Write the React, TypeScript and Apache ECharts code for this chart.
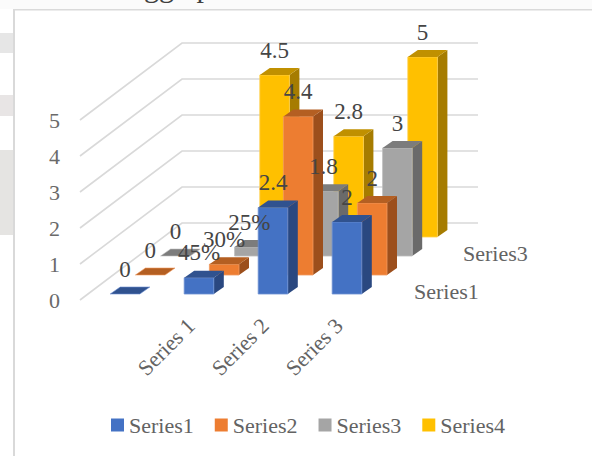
import React, { useEffect, useRef } from "react";
import * as echarts from "echarts";

const categories = ["", "Series 1", "Series 2", "Series 3"];
const seriesNames = ["Series1", "Series2", "Series3", "Series4"];
const series1Values = [0, 0.45, 2.4, 2];
const series2Values = [0, 0.3, 4.4, 2];
const series3Values = [0, 0.25, 1.8, 3];
const series4Values = [null, 4.5, 2.8, 5];
const series1Labels = ["0", "45%", "2.4", "2"];
const series2Labels = ["0", "30%", "4.4", "2"];
const series3Labels = ["0", "25%", "1.8", "3"];
const series4Labels = ["", "4.5", "2.8", "5"];
const yTicks = [0, 1, 2, 3, 4, 5];
const depthLabels = ["Series1", "Series3"];

const FONT = '"Liberation Serif", serif';
const FRONT = ["#4472C4", "#ED7D31", "#A5A5A5", "#FFC000"];
const TOP = ["#30528F", "#B45F22", "#7C7C7C", "#C09000"];
const SIDE = ["#2A4880", "#9C4F1C", "#6A6A6A", "#A67C00"];
const EDGE = ["#6C8FD2", "#F19A5F", "#BDBDBD", "#FFD04D"];

const barSeries = (row: number, values: (number | null)[], labels: string[]) => ({
  type: "custom",
  name: seriesNames[row],
  coordinateSystem: "cartesian2d",
  z: 3,
  itemStyle: { color: FRONT[row] },
  data: values.map((v, i) => [i, v]).filter((d) => d[1] !== null),
  renderItem: (_p: any, api: any) => {
    const cat = api.value(0);
    const v = api.value(1);
    const band = api.size([1, 0])[0];
    const base = api.coord([cat, 0]);
    const top = api.coord([cat, v]);
    const w = band * 0.4;
    const ox = 8 + 25.2 * row;
    const oy = -6 - 19 * row;
    const x0 = base[0] - w / 2 + ox;
    const x1 = x0 + w;
    const yb = base[1] + oy;
    const yt = top[1] + oy;
    const dx = 10;
    const dy = -7;
    const z2 = 10 - row;
    const children: any[] = [];
    if (v > 0) {
      children.push({
        type: "polygon",
        z2,
        shape: { points: [[x1, yb], [x1 + dx, yb + dy], [x1 + dx, yt + dy], [x1, yt]] },
        style: { fill: SIDE[row] },
      });
      children.push({
        type: "rect",
        z2,
        shape: { x: x0, y: yt, width: w, height: yb - yt },
        style: { fill: FRONT[row], stroke: EDGE[row], lineWidth: 0.8 },
      });
    }
    children.push({
      type: "polygon",
      z2,
      shape: { points: [[x0, yt], [x1, yt], [x1 + dx, yt + dy], [x0 + dx, yt + dy]] },
      style: { fill: TOP[row], stroke: v > 0 ? undefined : EDGE[row], lineWidth: v > 0 ? 0 : 0.6 },
    });
    children.push({
      type: "text",
      z2: 50,
      x: (x0 + x1 + dx) / 2 - 5,
      y: yt + dy - 18,
      style: {
        text: labels[cat],
        fill: "#454545",
        font: `23px ${FONT}`,
        textAlign: "center",
        textVerticalAlign: "middle",
      },
    });
    return { type: "group", children };
  },
});

const gridSeries = {
  type: "custom",
  name: "walls",
  coordinateSystem: "cartesian2d",
  z: 1,
  silent: true,
  data: yTicks.map((t) => [0, t]),
  renderItem: (_p: any, api: any) => {
    const band = api.size([1, 0])[0];
    const p = api.coord([0, api.value(1)]);
    const left = p[0] - band / 2;
    const bx = left + 102;
    const by = p[1] - 77;
    return {
      type: "polyline",
      shape: { points: [[left, p[1]], [bx, by], [left + band * categories.length + 102, by]] },
      style: { stroke: "#D9D9D9", lineWidth: 1.6, fill: "none" },
    };
  },
};

const option: any = {
  animation: false,
  backgroundColor: "#FFFFFF",
  textStyle: { fontFamily: FONT },
  grid: { left: 80, top: 120, width: 296, height: 180 },
  xAxis: {
    type: "category",
    data: categories,
    axisLine: { show: false },
    axisTick: { show: false },
    splitLine: { show: false },
    axisLabel: {
      interval: 0,
      rotate: 45,
      margin: 22,
      color: "#636363",
      fontFamily: FONT,
      fontSize: 22,
    },
  },
  yAxis: {
    type: "value",
    min: 0,
    max: 5,
    interval: 1,
    axisLine: { show: false },
    axisTick: { show: false },
    splitLine: { show: false },
    axisLabel: { margin: 20, color: "#6A6A6A", fontFamily: FONT, fontSize: 22 },
  },
  legend: {
    left: 106,
    top: 409,
    itemWidth: 13,
    itemHeight: 13,
    itemGap: 21,
    icon: "rect",
    data: seriesNames,
    textStyle: { color: "#636363", fontFamily: FONT, fontSize: 22, padding: [0, 0, 0, 0] },
    selectedMode: false,
  },
  series: [
    gridSeries,
    barSeries(0, series1Values, series1Labels),
    barSeries(1, series2Values, series2Labels),
    barSeries(2, series3Values, series3Labels),
    barSeries(3, series4Values, series4Labels),
  ],
  graphic: [
    { type: "rect", z: -5, silent: true, shape: { x: 0, y: 0, width: 592, height: 9 }, style: { fill: "#FBFBFB" } },
    { type: "rect", z: -5, silent: true, shape: { x: 0, y: 33, width: 13, height: 20 }, style: { fill: "#E6E6E6" } },
    { type: "rect", z: -5, silent: true, shape: { x: 0, y: 95, width: 13, height: 21 }, style: { fill: "#E8E5E5" } },
    { type: "rect", z: -5, silent: true, shape: { x: 0, y: 150, width: 13, height: 85 }, style: { fill: "#E5E4E2" } },
    { type: "rect", z: -4, silent: true, shape: { x: 13, y: 9, width: 2, height: 447 }, style: { fill: "#D9D9D9" } },
    { type: "rect", z: -4, silent: true, shape: { x: 13, y: 9, width: 579, height: 1.4 }, style: { fill: "#DADADA" } },
    {
      type: "text",
      z: -3,
      silent: true,
      x: 144,
      y: -29,
      style: { text: "gg\u00A0\u00A0\u00A0p", fill: "#404040", font: `30px ${FONT}` },
    },
    {
      type: "text",
      silent: true,
      x: 463,
      y: 253,
      style: { text: depthLabels[1], fill: "#636363", font: `22px ${FONT}`, textVerticalAlign: "middle" },
    },
    {
      type: "text",
      silent: true,
      x: 414,
      y: 291,
      style: { text: depthLabels[0], fill: "#636363", font: `22px ${FONT}`, textVerticalAlign: "middle" },
    },
  ],
};

export default function App() {
  const ref = useRef<HTMLDivElement>(null);
  useEffect(() => {
    document.body.style.margin = "0";
    const chart = echarts.init(ref.current!, undefined, { renderer: "svg" });
    chart.setOption(option);
    return () => chart.dispose();
  }, []);
  return <div ref={ref} style={{ position: "absolute", left: 0, top: 0, width: 592, height: 456 }} />;
}
